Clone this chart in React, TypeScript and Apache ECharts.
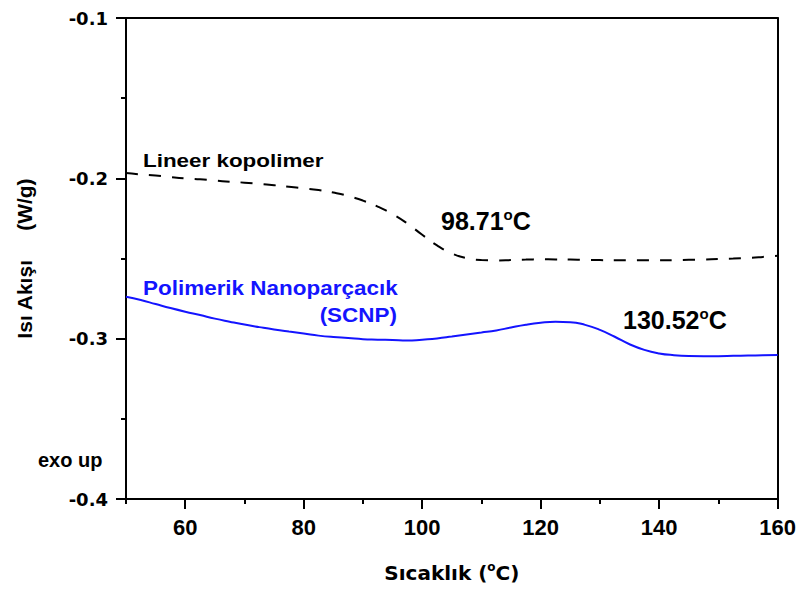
import React, { useEffect, useRef } from 'react';
import * as echarts from 'echarts';

// Temperature grid (°C) shared by both curves
const temperature = [
  50, 52.5, 55, 57.5, 60, 62.5, 65, 67.5, 70, 72.5, 75, 77.5, 80, 82.5, 85, 87.5, 90, 92.5, 95, 97.5,
  100, 102.5, 105, 107.5, 110, 112.5, 115, 117.5, 120, 122.5, 125, 127.5, 130, 132.5, 135, 137.5, 140,
  142.5, 145, 147.5, 150, 152.5, 155, 157.5, 160,
];

// Lineer kopolimer (dashed black)
const flowLinear = [
  -0.1967, -0.1976, -0.1983, -0.1992, -0.2, -0.2006, -0.2014, -0.2021, -0.2027, -0.2035, -0.2043, -0.2052,
  -0.2062, -0.2073, -0.2089, -0.211, -0.2139, -0.2176, -0.2223, -0.2282, -0.2352, -0.2418, -0.2468, -0.2498,
  -0.251, -0.2512, -0.251, -0.2507, -0.2505, -0.2506, -0.2507, -0.2508, -0.251, -0.2511, -0.2511, -0.2511,
  -0.2511, -0.251, -0.2508, -0.2506, -0.2503, -0.25, -0.2496, -0.249, -0.2483,
];

// Polimerik Nanoparçacık (SCNP) (solid blue)
const flowSCNP = [
  -0.2738, -0.2759, -0.2784, -0.2809, -0.2832, -0.2853, -0.2875, -0.2894, -0.2912, -0.2928, -0.2943, -0.2956,
  -0.2968, -0.2981, -0.299, -0.2996, -0.3003, -0.3006, -0.3009, -0.3012, -0.3006, -0.2999, -0.2987, -0.2974,
  -0.2962, -0.2949, -0.293, -0.2913, -0.2901, -0.2895, -0.2897, -0.2914, -0.2945, -0.2988, -0.3035, -0.307,
  -0.3092, -0.3103, -0.3108, -0.3109, -0.3109, -0.3107, -0.3105, -0.3104, -0.3102,
];

const xMajorTicks = [60, 80, 100, 120, 140, 160];
const xMinorTicks = [50, 70, 90, 110, 130, 150];
const yMin = -0.4;
const yMax = -0.1;
const yStep = 0.1;

const BLACK = '#000000';
const BLUE = '#1414ff';
const ARIAL = '"Liberation Sans", Arial, sans-serif';
const DEJAVU = '"DejaVu Sans", sans-serif';

export default function App() {
  const ref = useRef<HTMLDivElement>(null);

  useEffect(() => {
    if (!ref.current) return;
    const chart = echarts.init(ref.current, null, { renderer: 'svg' });
    const axisLineStyle = { color: BLACK, width: 2 };

    chart.setOption({
      animation: false,
      backgroundColor: '#ffffff',
      grid: { left: 126, top: 18, width: 653, height: 481, containLabel: false },
      xAxis: [
        {
          type: 'value',
          min: 50,
          max: 160,
          interval: 10,
          position: 'bottom',
          axisLine: { show: true, onZero: false, lineStyle: axisLineStyle },
          axisTick: { show: true, customValues: xMajorTicks, length: 10, lineStyle: axisLineStyle },
          axisLabel: {
            customValues: xMajorTicks,
            fontSize: 22,
            fontWeight: 'bold',
            fontFamily: ARIAL,
            color: BLACK,
            margin: 17,
          },
          splitLine: { show: false },
          name: '{n|Sıcaklık (}{s|o}{n|C)}',
          nameLocation: 'middle',
          nameGap: 62,
          nameTextStyle: {
            rich: {
              n: { fontSize: 20, fontWeight: 'bold', fontFamily: DEJAVU, color: BLACK, lineHeight: 24 },
              s: { fontSize: 12, fontWeight: 'bold', fontFamily: DEJAVU, color: BLACK, verticalAlign: 'top', lineHeight: 14 },
            },
          },
        },
        {
          type: 'value',
          min: 50,
          max: 160,
          interval: 10,
          position: 'bottom',
          axisLine: { show: false },
          axisTick: { show: true, customValues: xMinorTicks, length: 5, lineStyle: axisLineStyle },
          axisLabel: { show: false },
          splitLine: { show: false },
        },
        {
          type: 'value',
          min: 50,
          max: 160,
          position: 'top',
          axisLine: { show: true, onZero: false, lineStyle: axisLineStyle },
          axisTick: { show: false },
          axisLabel: { show: false },
          splitLine: { show: false },
        },
      ],
      yAxis: [
        {
          type: 'value',
          min: yMin,
          max: yMax,
          interval: yStep,
          position: 'left',
          axisLine: { show: true, onZero: false, lineStyle: axisLineStyle },
          axisTick: { show: true, length: 10, lineStyle: axisLineStyle },
          minorTick: { show: true, splitNumber: 2, length: 5, lineStyle: axisLineStyle },
          axisLabel: {
            formatter: (v: number) => v.toFixed(1),
            fontSize: 18,
            fontWeight: 'bold',
            fontFamily: DEJAVU,
            color: BLACK,
            margin: 18,
          },
          splitLine: { show: false },
          minorSplitLine: { show: false },
          name: 'Isı Akışı     (W/g)',
          nameLocation: 'middle',
          nameRotate: 90,
          nameGap: 91,
          nameTextStyle: { fontSize: 21, fontWeight: 'bold', fontFamily: ARIAL, color: BLACK },
        },
        {
          type: 'value',
          min: yMin,
          max: yMax,
          position: 'right',
          axisLine: { show: true, onZero: false, lineStyle: axisLineStyle },
          axisTick: { show: false },
          axisLabel: { show: false },
          splitLine: { show: false },
        },
      ],
      series: [
        {
          name: 'Lineer kopolimer',
          type: 'line',
          xAxisIndex: 0,
          yAxisIndex: 0,
          data: temperature.map((t, i) => [t, flowLinear[i]]),
          showSymbol: false,
          symbol: 'none',
          smooth: 0.5,
          lineStyle: { color: BLACK, width: 2, type: [12, 11] },
        },
        {
          name: 'Polimerik Nanoparçacık (SCNP)',
          type: 'line',
          xAxisIndex: 0,
          yAxisIndex: 0,
          data: temperature.map((t, i) => [t, flowSCNP[i]]),
          showSymbol: false,
          symbol: 'none',
          smooth: 0.5,
          lineStyle: { color: BLUE, width: 2 },
        },
      ],
      graphic: [
        {
          type: 'text',
          x: 143,
          y: 160,
          scaleX: 1.18,
          style: {
            text: 'Lineer kopolimer',
            font: `bold 19px ${ARIAL}`,
            fill: BLACK,
            align: 'left',
            verticalAlign: 'middle',
            textAlign: 'left',
            textVerticalAlign: 'middle',
          },
        },
        {
          type: 'text',
          x: 441,
          y: 221,
          style: {
            text: '{a|98.71}{s|o}{a|C}',
            rich: {
              a: { fontSize: 25, fontWeight: 'bold', fontFamily: ARIAL, fill: BLACK, color: BLACK, lineHeight: 28 },
              s: { fontSize: 15, fontWeight: 'bold', fontFamily: ARIAL, fill: BLACK, color: BLACK, verticalAlign: 'top', lineHeight: 16 },
            },
            align: 'left',
            verticalAlign: 'middle',
            textAlign: 'left',
            textVerticalAlign: 'middle',
          },
        },
        {
          type: 'text',
          x: 143,
          y: 288,
          scaleX: 1.07,
          style: {
            text: 'Polimerik Nanoparçacık',
            font: `bold 21px ${ARIAL}`,
            fill: BLUE,
            align: 'left',
            verticalAlign: 'middle',
            textAlign: 'left',
            textVerticalAlign: 'middle',
          },
        },
        {
          type: 'text',
          x: 397,
          y: 315,
          scaleX: 1.07,
          style: {
            text: '(SCNP)',
            font: `bold 21px ${ARIAL}`,
            fill: BLUE,
            align: 'right',
            verticalAlign: 'middle',
            textAlign: 'right',
            textVerticalAlign: 'middle',
          },
        },
        {
          type: 'text',
          x: 623,
          y: 320,
          style: {
            text: '{a|130.52}{s|o}{a|C}',
            rich: {
              a: { fontSize: 25, fontWeight: 'bold', fontFamily: ARIAL, fill: BLACK, color: BLACK, lineHeight: 28 },
              s: { fontSize: 15, fontWeight: 'bold', fontFamily: ARIAL, fill: BLACK, color: BLACK, verticalAlign: 'top', lineHeight: 16 },
            },
            align: 'left',
            verticalAlign: 'middle',
            textAlign: 'left',
            textVerticalAlign: 'middle',
          },
        },
        {
          type: 'text',
          x: 38,
          y: 460,
          style: {
            text: 'exo up',
            font: `bold 20px ${ARIAL}`,
            fill: BLACK,
            align: 'left',
            verticalAlign: 'middle',
            textAlign: 'left',
            textVerticalAlign: 'middle',
          },
        },
      ],
    });

    return () => chart.dispose();
  }, []);

  return <div ref={ref} style={{ position: 'absolute', left: 0, top: 0, width: 799, height: 590 }} />;
}
